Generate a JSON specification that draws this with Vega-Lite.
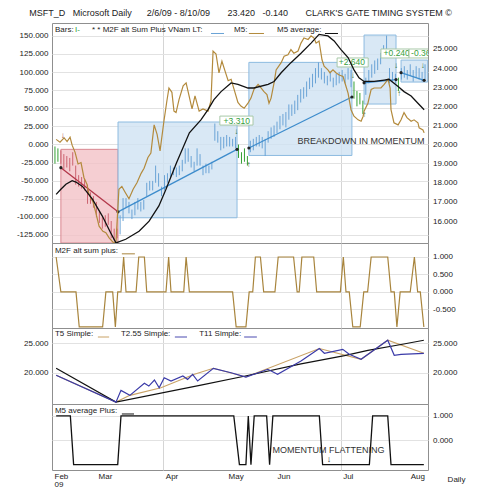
{
"$schema": "https://vega.github.io/schema/vega-lite/v6.json",
"background": "white",
"padding": {"left": 15, "top": 8, "right": 5, "bottom": 2},
"title": {"text": "MSFT_D\u00a0\u00a0\u00a0Microsoft Daily\u00a0\u00a0\u00a0\u00a0\u00a0\u00a02/6/09 - 8/10/09\u00a0\u00a0\u00a0\u00a0\u00a0\u00a0\u00a023.420\u00a0\u00a0\u00a0-0.140\u00a0\u00a0\u00a0\u00a0\u00a0\u00a0\u00a0CLARK'S GATE TIMING SYSTEM \u00a9", "fontSize": 9, "fontWeight": "normal", "color": "#222", "anchor": "middle", "offset": 5},
"spacing": 0,
"bounds": "flush",
"resolve": {"scale": {"y": "independent"}},
"config": {
  "font": "Liberation Sans",
  "view": {"stroke": "#8f8f8f", "strokeWidth": 1},
  "axis": {"labelFont": "Liberation Sans", "labelFontSize": 8, "labelColor": "#222", "domain": false, "ticks": false, "titleFont": "Liberation Sans"}
},
"vconcat": [
{
  "width": 376, "height": 220,
  "encoding": {"x": {"field": "t", "type": "quantitative", "scale": {"domain": [0, 127], "nice": false, "zero": false}, "axis": {"values": [37.6, 97.5], "labels": false, "ticks": false, "domain": false, "grid": true, "gridColor": "#d5d5d5", "title": null}}},
  "resolve": {"scale": {"y": "independent"}},
  "layer": [
    {"encoding": {"y": {"field": "v", "type": "quantitative", "scale": {"domain": [14.85, 26.36], "nice": false, "zero": false}, "axis": {"orient": "right", "values": [16, 17, 18, 19, 20, 21, 22, 23, 24, 25], "labelExpr": "format(datum.value, '.3f')", "labelPadding": 4.5, "grid": false, "title": null}}},
    "layer": [
      {"data": {"values": [
        {"kind": "down", "t": 3.0, "t2": 22.3, "v": 14.85, "v2": 19.75},
        {"kind": "up", "t": 22.3, "t2": 62.5, "v": 16.17, "v2": 21.18},
        {"kind": "up", "t": 66.5, "t2": 101.3, "v": 19.43, "v2": 24.30},
        {"kind": "up", "t": 105.4, "t2": 116.2, "v": 22.12, "v2": 25.73},
        {"kind": "up", "t": 117.9, "t2": 126.9, "v": 23.27, "v2": 24.42}
      ]},
      "mark": {"type": "rect", "strokeWidth": 1, "fillOpacity": 0.8},
      "encoding": {
        "x2": {"field": "t2"},
        "y2": {"field": "v2"},
        "fill": {"field": "kind", "type": "nominal", "scale": {"domain": ["down", "up"], "range": ["#f2c2c7", "#cfe2f3"]}, "legend": null},
        "stroke": {"field": "kind", "type": "nominal", "scale": {"domain": ["down", "up"], "range": ["#d98791", "#8dbbe0"]}, "legend": null}
      }},
      {"data": {"values": [
        {"t":1,"v":19.0,"v2":19.9,"g":"g"},{"t":2,"v":19.1,"v2":19.8,"g":"g"},
        {"t":3,"v":19.0,"v2":19.7,"g":"r"},{"t":4,"v":18.7,"v2":19.5,"g":"r"},{"t":5,"v":18.8,"v2":19.4,"g":"r"},{"t":6,"v":18.6,"v2":19.3,"g":"r"},{"t":7,"v":18.9,"v2":19.6,"g":"r"},{"t":8,"v":17.9,"v2":18.9,"g":"r"},{"t":9,"v":17.8,"v2":18.4,"g":"r"},{"t":10,"v":17.7,"v2":18.3,"g":"r"},{"t":11,"v":17.6,"v2":18.2,"g":"r"},{"t":12,"v":16.9,"v2":17.9,"g":"r"},{"t":13,"v":16.9,"v2":17.5,"g":"r"},{"t":14,"v":16.7,"v2":17.3,"g":"r"},{"t":15,"v":16.2,"v2":17.0,"g":"r"},{"t":16,"v":15.9,"v2":16.5,"g":"r"},{"t":17,"v":15.6,"v2":16.2,"g":"r"},{"t":18,"v":15.7,"v2":16.3,"g":"r"},{"t":19,"v":15.8,"v2":16.4,"g":"r"},{"t":20,"v":15.1,"v2":16.0,"g":"r"},{"t":21,"v":15.0,"v2":15.6,"g":"r"},{"t":22,"v":15.1,"v2":15.6,"g":"r"},
        {"t":23,"v":15.3,"v2":16.3,"g":"b"},{"t":24,"v":16.0,"v2":17.2,"g":"b"},{"t":25,"v":16.7,"v2":17.2,"g":"b"},{"t":26,"v":16.4,"v2":17.0,"g":"b"},{"t":27,"v":16.1,"v2":16.6,"g":"b"},{"t":28,"v":16.3,"v2":17.0,"g":"b"},{"t":29,"v":16.6,"v2":17.2,"g":"b"},{"t":30,"v":16.5,"v2":17.0,"g":"b"},{"t":31,"v":16.6,"v2":17.1,"g":"b"},{"t":32,"v":17.3,"v2":18.0,"g":"b"},{"t":33,"v":17.6,"v2":18.1,"g":"b"},{"t":34,"v":17.6,"v2":18.1,"g":"b"},{"t":35,"v":18.0,"v2":18.9,"g":"b"},{"t":36,"v":17.8,"v2":18.5,"g":"b"},{"t":37,"v":17.3,"v2":17.8,"g":"b"},{"t":38,"v":17.6,"v2":18.4,"g":"b"},{"t":39,"v":18.0,"v2":18.5,"g":"b"},{"t":40,"v":18.3,"v2":18.9,"g":"b"},{"t":41,"v":18.4,"v2":18.8,"g":"b"},{"t":42,"v":18.3,"v2":18.8,"g":"b"},{"t":43,"v":18.4,"v2":18.9,"g":"b"},{"t":44,"v":18.6,"v2":19.2,"g":"b"},{"t":45,"v":19.0,"v2":19.8,"g":"b"},{"t":46,"v":19.1,"v2":19.8,"g":"b"},{"t":47,"v":18.8,"v2":19.4,"g":"b"},{"t":48,"v":18.6,"v2":19.1,"g":"b"},{"t":49,"v":18.9,"v2":19.8,"g":"b"},{"t":50,"v":18.9,"v2":19.5,"g":"b"},{"t":51,"v":18.4,"v2":18.9,"g":"b"},{"t":52,"v":18.5,"v2":19.0,"g":"b"},{"t":53,"v":18.5,"v2":18.9,"g":"b"},{"t":54,"v":18.7,"v2":19.1,"g":"b"},{"t":55,"v":20.2,"v2":21.1,"g":"b"},{"t":56,"v":20.1,"v2":20.7,"g":"b"},{"t":57,"v":19.7,"v2":20.4,"g":"b"},{"t":58,"v":19.8,"v2":20.4,"g":"b"},{"t":59,"v":19.9,"v2":20.5,"g":"b"},{"t":60,"v":19.9,"v2":20.4,"g":"b"},{"t":61,"v":19.9,"v2":20.3,"g":"b"},{"t":62,"v":19.8,"v2":20.4,"g":"b"},
        {"t":63,"v":19.3,"v2":20.0,"g":"g"},{"t":64,"v":19.0,"v2":19.6,"g":"g"},{"t":65,"v":19.1,"v2":19.8,"g":"g"},{"t":66,"v":18.9,"v2":19.4,"g":"g"},
        {"t":67,"v":19.6,"v2":20.2,"g":"b"},{"t":68,"v":19.7,"v2":20.3,"g":"b"},{"t":69,"v":19.9,"v2":20.4,"g":"b"},{"t":70,"v":19.9,"v2":20.5,"g":"b"},{"t":71,"v":19.8,"v2":20.4,"g":"b"},{"t":72,"v":19.4,"v2":20.3,"g":"b"},{"t":73,"v":20.1,"v2":20.7,"g":"b"},{"t":74,"v":20.3,"v2":20.9,"g":"b"},{"t":75,"v":20.4,"v2":21.0,"g":"b"},{"t":76,"v":20.6,"v2":21.2,"g":"b"},{"t":77,"v":20.8,"v2":21.5,"g":"b"},{"t":78,"v":21.0,"v2":21.6,"g":"b"},{"t":79,"v":20.9,"v2":21.7,"g":"b"},{"t":80,"v":21.3,"v2":22.1,"g":"b"},{"t":81,"v":21.5,"v2":22.1,"g":"b"},{"t":82,"v":21.6,"v2":22.3,"g":"b"},{"t":83,"v":21.8,"v2":22.6,"g":"b"},{"t":84,"v":22.2,"v2":22.9,"g":"b"},{"t":85,"v":22.4,"v2":23.0,"g":"b"},{"t":86,"v":22.5,"v2":23.3,"g":"b"},{"t":87,"v":22.9,"v2":23.5,"g":"b"},{"t":88,"v":23.0,"v2":23.7,"g":"b"},{"t":89,"v":23.2,"v2":24.0,"g":"b"},{"t":90,"v":23.5,"v2":24.3,"g":"b"},{"t":91,"v":23.4,"v2":24.0,"g":"b"},{"t":92,"v":23.2,"v2":23.8,"g":"b"},{"t":93,"v":23.1,"v2":23.6,"g":"b"},{"t":94,"v":23.3,"v2":23.8,"g":"b"},{"t":95,"v":23.0,"v2":23.5,"g":"b"},{"t":96,"v":23.1,"v2":23.7,"g":"b"},{"t":97,"v":23.2,"v2":23.8,"g":"b"},{"t":98,"v":23.3,"v2":23.9,"g":"b"},{"t":99,"v":23.2,"v2":23.7,"g":"b"},{"t":100,"v":23.4,"v2":24.0,"g":"b"},{"t":101,"v":23.0,"v2":23.9,"g":"b"},
        {"t":102,"v":22.4,"v2":23.3,"g":"g"},{"t":103,"v":22.0,"v2":22.8,"g":"g"},{"t":104,"v":22.1,"v2":22.7,"g":"g"},{"t":105,"v":21.6,"v2":22.3,"g":"g"},
        {"t":106,"v":22.6,"v2":23.5,"g":"b"},{"t":107,"v":23.2,"v2":23.9,"g":"b"},{"t":108,"v":23.5,"v2":24.2,"g":"b"},{"t":109,"v":23.7,"v2":24.4,"g":"b"},{"t":110,"v":23.9,"v2":24.5,"g":"b"},{"t":111,"v":24.2,"v2":24.8,"g":"b"},{"t":112,"v":24.6,"v2":25.2,"g":"b"},{"t":113,"v":25.0,"v2":25.7,"g":"b"},{"t":114,"v":23.2,"v2":24.0,"g":"b"},{"t":115,"v":23.3,"v2":23.8,"g":"b"},{"t":116,"v":23.2,"v2":23.7,"g":"b"},
        {"t":117,"v":22.8,"v2":23.5,"g":"g"},
        {"t":118,"v":23.4,"v2":24.0,"g":"b"},{"t":119,"v":23.5,"v2":24.1,"g":"b"},{"t":120,"v":23.4,"v2":23.9,"g":"b"},{"t":121,"v":23.6,"v2":24.2,"g":"b"},{"t":122,"v":23.3,"v2":23.9,"g":"b"},{"t":123,"v":23.5,"v2":24.1,"g":"b"},{"t":124,"v":23.4,"v2":24.0,"g":"b"},{"t":125,"v":23.3,"v2":23.8,"g":"b"},{"t":126,"v":23.4,"v2":24.2,"g":"b"}
      ]},
      "mark": {"type": "rule", "strokeWidth": 1},
      "encoding": {
        "y2": {"field": "v2"},
        "color": {"field": "g", "type": "nominal", "scale": {"domain": ["r", "b", "g"], "range": ["#cc6470", "#6aa3d6", "#34a034"]}, "legend": null}
      }},
      {"data": {"values": [{"t": 3.0, "v": 18.79}, {"t": 22.3, "v": 16.48}]},
      "mark": {"type": "line", "color": "#b3384a", "strokeWidth": 1.3}},
      {"data": {"values": [
        {"s": 1, "t": 22.3, "v": 16.48}, {"s": 1, "t": 62.5, "v": 19.75},
        {"s": 2, "t": 66.5, "v": 19.82}, {"s": 2, "t": 101.3, "v": 22.49},
        {"s": 3, "t": 105.4, "v": 23.23}, {"s": 3, "t": 116.2, "v": 23.40},
        {"s": 4, "t": 117.9, "v": 23.76}, {"s": 4, "t": 125.7, "v": 23.36}
      ]},
      "mark": {"type": "line", "color": "#3d8ccc", "strokeWidth": 1.3},
      "encoding": {"detail": {"field": "s", "type": "nominal"}}},
      {"data": {"values": [
        {"t": 3.0, "v": 18.79}, {"t": 22.3, "v": 16.48}, {"t": 62.5, "v": 19.75}, {"t": 66.5, "v": 19.82}, {"t": 101.3, "v": 22.49}, {"t": 105.4, "v": 23.23}, {"t": 116.2, "v": 23.40}, {"t": 117.9, "v": 23.76}, {"t": 125.7, "v": 23.36}
      ]},
      "mark": {"type": "point", "filled": true, "color": "#222", "size": 10, "opacity": 1}},
      {"data": {"values": [
        {"t": 62.2, "v": 20.65, "txt": "\u2193"}, {"t": 66.4, "v": 18.95, "txt": "\u2191"},
        {"t": 101.6, "v": 23.6, "txt": "\u2193"}, {"t": 105.5, "v": 21.55, "txt": "\u2191"},
        {"t": 116.2, "v": 24.1, "txt": "\u2193"}, {"t": 117.2, "v": 22.65, "txt": "\u2191"},
        {"t": 125.2, "v": 24.1, "txt": "\u2193"}
      ]},
      "mark": {"type": "text", "align": "center", "baseline": "middle", "fontSize": 8, "fontWeight": "bold", "color": "#2d6e2d"},
      "encoding": {"text": {"field": "txt"}}},
      {"data": {"values": [{"t": 3.6, "v": 20.44, "txt": "\u2193"}]},
      "mark": {"type": "text", "align": "center", "baseline": "middle", "fontSize": 8, "fontWeight": "bold", "color": "#9a2a3a"},
      "encoding": {"text": {"field": "txt"}}},
      {"data": {"values": [
        {"t": 56.7, "t2": 67.9, "v": 21.02, "v2": 21.49},
        {"t": 96.3, "t2": 106.8, "v": 24.06, "v2": 24.53},
        {"t": 111.1, "t2": 120.6, "v": 24.53, "v2": 25.0}
      ]},
      "mark": {"type": "rect", "fill": "white", "stroke": "#a8c8a8", "strokeWidth": 1, "clip": true},
      "encoding": {"x2": {"field": "t2"}, "y2": {"field": "v2"}}},
      {"data": {"values": [
        {"t": 62.4, "v": 21.25, "txt": "+3.310"},
        {"t": 101.3, "v": 24.3, "txt": "+2.640"}
      ]},
      "mark": {"type": "text", "align": "center", "baseline": "middle", "fontSize": 8.5, "color": "#36a03c"},
      "encoding": {"text": {"field": "txt"}}},
      {"data": {"values": [{"t": 112.0, "v": 24.77, "txt": "+0.240"}]},
      "mark": {"type": "text", "align": "left", "baseline": "middle", "fontSize": 8.5, "color": "#36a03c"},
      "encoding": {"text": {"field": "txt"}}},
      {"data": {"values": [{"t": 120.6, "t2": 128.2, "v": 24.53, "v2": 25.0}]},
      "mark": {"type": "rect", "fill": "white", "stroke": "#a8c8a8", "strokeWidth": 1, "clip": true},
      "encoding": {"x2": {"field": "t2"}, "y2": {"field": "v2"}}},
      {"data": {"values": [{"t": 121.3, "v": 24.77, "txt": "-0.360"}]},
      "mark": {"type": "text", "align": "left", "baseline": "middle", "fontSize": 8.5, "color": "#36a03c", "clip": true},
      "encoding": {"text": {"field": "txt"}}},
      {"data": {"values": [{"t": 104.4, "v": 20.18, "txt": "BREAKDOWN IN MOMENTUM"}]},
      "mark": {"type": "text", "align": "center", "baseline": "middle", "fontSize": 9, "color": "#333"},
      "encoding": {"text": {"field": "txt"}}}
    ]},
    {"encoding": {"y": {"field": "v", "type": "quantitative", "scale": {"domain": [-136.2, 167.8], "nice": false, "zero": false}, "axis": {"orient": "left", "values": [-125, -100, -75, -50, -25, 0, 25, 50, 75, 100, 125, 150], "labelExpr": "replace(format(datum.value, '.3f'), '\u2212', '-')", "labelPadding": 4, "grid": true, "gridColor": "#e2e2e2", "title": null}}},
    "layer": [
      {"data": {"values": [
        {"t":1.4,"v":7},{"t":2.7,"v":3},{"t":4.1,"v":9},{"t":5.1,"v":4},{"t":6.1,"v":10},{"t":6.8,"v":-1},{"t":7.8,"v":-11},{"t":8.8,"v":-27},{"t":9.8,"v":-25},{"t":10.8,"v":-46},{"t":11.8,"v":-55},{"t":12.5,"v":-69},{"t":13.9,"v":-80},{"t":14.9,"v":-96},{"t":15.9,"v":-113},{"t":17.2,"v":-120},{"t":18.2,"v":-122},{"t":19.3,"v":-129},{"t":20.6,"v":-135},{"t":21.6,"v":-136},{"t":22.6,"v":-62},{"t":23.6,"v":-58},{"t":24.7,"v":-66},{"t":26.0,"v":-75},{"t":27.4,"v":-62},{"t":28.7,"v":-53},{"t":30.1,"v":-40},{"t":31.1,"v":-33},{"t":32.4,"v":-18},{"t":33.4,"v":-12},{"t":34.5,"v":27},{"t":35.5,"v":14},{"t":36.5,"v":-9},{"t":37.8,"v":32},{"t":38.8,"v":60},{"t":39.5,"v":78},{"t":40.5,"v":72},{"t":41.2,"v":46},{"t":41.9,"v":44},{"t":42.9,"v":62},{"t":44.3,"v":81},{"t":45.3,"v":85},{"t":46.3,"v":67},{"t":47.3,"v":49},{"t":48.3,"v":67},{"t":49.7,"v":46},{"t":51.0,"v":49},{"t":52.7,"v":46},{"t":53.7,"v":60},{"t":54.4,"v":129},{"t":55.4,"v":125},{"t":56.4,"v":99},{"t":57.4,"v":115},{"t":58.4,"v":102},{"t":59.5,"v":88},{"t":60.5,"v":90},{"t":61.5,"v":76},{"t":62.8,"v":58},{"t":63.8,"v":53},{"t":64.9,"v":50},{"t":66.2,"v":57},{"t":67.2,"v":64},{"t":68.2,"v":76},{"t":69.6,"v":83},{"t":70.6,"v":78},{"t":71.6,"v":73},{"t":72.6,"v":69},{"t":73.3,"v":57},{"t":74.0,"v":64},{"t":75.0,"v":85},{"t":75.7,"v":103},{"t":77.4,"v":113},{"t":78.4,"v":122},{"t":79.7,"v":124},{"t":80.7,"v":131},{"t":81.7,"v":126},{"t":83.1,"v":129},{"t":84.1,"v":140},{"t":85.1,"v":147},{"t":86.5,"v":145},{"t":87.5,"v":150},{"t":88.5,"v":147},{"t":89.2,"v":140},{"t":90.2,"v":143},{"t":91.2,"v":117},{"t":91.9,"v":108},{"t":93.2,"v":103},{"t":93.9,"v":99},{"t":94.9,"v":103},{"t":95.9,"v":99},{"t":97.0,"v":96},{"t":98.3,"v":94},{"t":98.8,"v":87},{"t":100.0,"v":71},{"t":101.0,"v":48},{"t":102.0,"v":39},{"t":103.4,"v":34},{"t":104.4,"v":32},{"t":105.1,"v":39},{"t":105.4,"v":46},{"t":106.7,"v":57},{"t":107.8,"v":76},{"t":108.8,"v":78},{"t":111.1,"v":78},{"t":112.2,"v":83},{"t":113.5,"v":90},{"t":114.2,"v":78},{"t":114.5,"v":48},{"t":115.5,"v":30},{"t":116.9,"v":27},{"t":117.9,"v":34},{"t":118.9,"v":44},{"t":119.9,"v":37},{"t":121.3,"v":32},{"t":122.3,"v":34},{"t":123.6,"v":30},{"t":124.0,"v":23},{"t":125.3,"v":20},{"t":125.7,"v":16}
      ]},
      "mark": {"type": "line", "color": "#b38a3c", "strokeWidth": 1.2}},
      {"data": {"values": [
        {"t":1.4,"v":-69},{"t":3.0,"v":-62},{"t":4.7,"v":-55},{"t":6.8,"v":-50},{"t":8.1,"v":-52},{"t":10.3,"v":-58},{"t":13.7,"v":-76},{"t":17.0,"v":-99},{"t":19.8,"v":-122},{"t":21.6,"v":-136},{"t":24.9,"v":-131},{"t":29.4,"v":-120},{"t":32.8,"v":-106},{"t":36.1,"v":-85},{"t":38.5,"v":-62},{"t":42.1,"v":-25},{"t":46.4,"v":16},{"t":50.3,"v":34},{"t":52.7,"v":48},{"t":54.7,"v":62},{"t":57.1,"v":73},{"t":60.5,"v":85},{"t":62.8,"v":83},{"t":66.2,"v":78},{"t":68.2,"v":78},{"t":73.0,"v":83},{"t":75.0,"v":87},{"t":77.4,"v":99},{"t":80.7,"v":113},{"t":84.1,"v":126},{"t":87.5,"v":140},{"t":90.2,"v":152},{"t":93.2,"v":150},{"t":95.3,"v":143},{"t":97.6,"v":131},{"t":100.0,"v":120},{"t":102.0,"v":103},{"t":103.7,"v":92},{"t":105.4,"v":87},{"t":108.8,"v":87},{"t":112.2,"v":89},{"t":113.8,"v":90},{"t":116.9,"v":80},{"t":118.9,"v":73},{"t":121.3,"v":67},{"t":123.6,"v":57},{"t":125.7,"v":48}
      ]},
      "mark": {"type": "line", "color": "#111111", "strokeWidth": 1.3}},
      {"data": {"values": [
        {"t": 1.0, "v": 158.1, "txt": "Bars:"}, {"t": 13.5, "v": 158.1, "txt": "* * M2F alt Sum Plus VNam LT:"}, {"t": 61.5, "v": 158.1, "txt": "M5:"}, {"t": 76.0, "v": 158.1, "txt": "M5 average:"}
      ]},
      "mark": {"type": "text", "align": "left", "baseline": "middle", "fontSize": 8, "color": "#222"},
      "encoding": {"text": {"field": "txt"}}},
      {"data": {"values": [{"t": 7.8, "v": 158.1, "txt": "I-"}]},
      "mark": {"type": "text", "align": "left", "baseline": "middle", "fontSize": 8, "color": "#34a034"},
      "encoding": {"text": {"field": "txt"}}},
      {"data": {"values": [{"t": 53.7, "t2": 58.1, "v": 153.3}]},
      "mark": {"type": "rule", "color": "#6aa3d6", "strokeWidth": 1},
      "encoding": {"x2": {"field": "t2"}}},
      {"data": {"values": [{"t": 66.5, "t2": 71.6, "v": 153.3}]},
      "mark": {"type": "rule", "color": "#b38a3c", "strokeWidth": 1},
      "encoding": {"x2": {"field": "t2"}}},
      {"data": {"values": [{"t": 92.2, "t2": 96.6, "v": 153.3}]},
      "mark": {"type": "rule", "color": "#111111", "strokeWidth": 1},
      "encoding": {"x2": {"field": "t2"}}}
    ]}
  ]
},
{
  "width": 376, "height": 85,
  "encoding": {
    "x": {"field": "t", "type": "quantitative", "scale": {"domain": [0, 127], "nice": false, "zero": false}, "axis": {"values": [37.6, 97.5], "labels": false, "ticks": false, "domain": false, "grid": true, "gridColor": "#d5d5d5", "title": null}},
    "y": {"field": "v", "type": "quantitative", "scale": {"domain": [-1.03, 1.4], "nice": false, "zero": false}, "axis": {"orient": "right", "values": [1, 0.5, 0, -0.5], "labelExpr": "replace(format(datum.value, '.3f'), '\u2212', '-')", "labelPadding": 4.5, "grid": true, "gridColor": "#e2e2e2", "title": null}}
  },
  "layer": [
    {"data": {"values": [
      {"t":1.4,"v":1},{"t":3.0,"v":0},{"t":8.1,"v":0},{"t":9.2,"v":-1},{"t":17.1,"v":-1},{"t":18.2,"v":0},{"t":20.5,"v":0},{"t":21.4,"v":-1},{"t":22.2,"v":0},{"t":23.3,"v":0},{"t":24.2,"v":1},{"t":25.0,"v":0},{"t":28.4,"v":0},{"t":29.3,"v":1},{"t":31.2,"v":1},{"t":32.0,"v":0},{"t":38.5,"v":0},{"t":39.4,"v":1},{"t":40.2,"v":0},{"t":44.5,"v":0},{"t":45.3,"v":1},{"t":46.4,"v":0},{"t":61.0,"v":0},{"t":62.2,"v":-1},{"t":65.5,"v":-1},{"t":66.6,"v":0},{"t":67.8,"v":0},{"t":68.7,"v":1},{"t":70.4,"v":1},{"t":71.5,"v":0},{"t":75.3,"v":0},{"t":76.4,"v":1},{"t":81.6,"v":1},{"t":82.8,"v":0},{"t":83.5,"v":0},{"t":84.4,"v":1},{"t":88.4,"v":1},{"t":89.4,"v":0},{"t":97.4,"v":0},{"t":98.4,"v":1},{"t":99.3,"v":0},{"t":100.4,"v":0},{"t":101.6,"v":-1},{"t":104.1,"v":-1},{"t":105.3,"v":0},{"t":106.6,"v":0},{"t":107.8,"v":1},{"t":113.4,"v":1},{"t":114.5,"v":0},{"t":115.6,"v":0},{"t":116.5,"v":-1},{"t":117.6,"v":0},{"t":121.0,"v":0},{"t":122.4,"v":1},{"t":123.5,"v":0},{"t":124.4,"v":0},{"t":125.6,"v":-1}
    ]},
    "mark": {"type": "line", "color": "#a8843c", "strokeWidth": 1.2}},
    {"data": {"values": [{"t": 1.0, "v": 1.17, "txt": "M2F alt sum plus:"}]},
    "mark": {"type": "text", "align": "left", "baseline": "middle", "fontSize": 8, "color": "#222"},
    "encoding": {"text": {"field": "txt"}}},
    {"data": {"values": [{"t": 23.6, "t2": 28.0, "v": 1.09}]},
    "mark": {"type": "rule", "color": "#a8843c", "strokeWidth": 1},
    "encoding": {"x2": {"field": "t2"}}}
  ]
},
{
  "width": 376, "height": 76,
  "encoding": {"x": {"field": "t", "type": "quantitative", "scale": {"domain": [0, 127], "nice": false, "zero": false}, "axis": {"values": [37.6, 97.5], "labels": false, "ticks": false, "domain": false, "grid": true, "gridColor": "#d5d5d5", "title": null}}},
  "resolve": {"scale": {"y": "independent"}},
  "layer": [
    {"encoding": {"y": {"field": "v", "type": "quantitative", "scale": {"domain": [14.68, 27.6], "nice": false, "zero": false}, "axis": {"orient": "left", "values": [20, 25], "labelExpr": "format(datum.value, '.3f')", "labelPadding": 4, "grid": true, "gridColor": "#e2e2e2", "title": null}}},
    "layer": [
      {"data": {"values": [
        {"t":1.4,"v":19.56},{"t":21.6,"v":15.0},{"t":26.3,"v":16.15},{"t":36.8,"v":17.44},{"t":48.1,"v":19.73},{"t":54.5,"v":20.75},{"t":65.5,"v":19.27},{"t":90.3,"v":24.1},{"t":104.4,"v":22.28},{"t":113.4,"v":25.52},{"t":125.6,"v":23.3}
      ]},
      "mark": {"type": "line", "color": "#c9a266", "strokeWidth": 1.1}},
      {"data": {"values": [
        {"t":1.4,"v":20.75},{"t":21.6,"v":15.0},{"t":50.3,"v":17.9},{"t":64.9,"v":19.4},{"t":84.1,"v":21.5},{"t":98.8,"v":22.9},{"t":106.7,"v":23.8},{"t":117.9,"v":24.8},{"t":125.6,"v":25.52}
      ]},
      "mark": {"type": "line", "color": "#111111", "strokeWidth": 1.2}},
      {"data": {"values": [{"t": 1.0, "v": 26.58, "txt": "T5 Simple:"}, {"t": 23.3, "v": 26.58, "txt": "T2.55 Simple:"}, {"t": 49.7, "v": 26.58, "txt": "T11 Simple:"}]},
      "mark": {"type": "text", "align": "left", "baseline": "middle", "fontSize": 8, "color": "#222"},
      "encoding": {"text": {"field": "txt"}}},
      {"data": {"values": [{"t": 15.5, "t2": 19.3, "v": 26.07}]},
      "mark": {"type": "rule", "color": "#c9a266", "strokeWidth": 1},
      "encoding": {"x2": {"field": "t2"}}},
      {"data": {"values": [{"t": 41.5, "t2": 45.6, "v": 26.07}, {"t": 64.9, "t2": 69.2, "v": 26.07}]},
      "mark": {"type": "rule", "color": "#4a4ab0", "strokeWidth": 1},
      "encoding": {"x2": {"field": "t2"}}}
    ]},
    {"data": {"values": [
      {"t":1.4,"v":19.56},{"t":21.6,"v":15.0},{"t":23.3,"v":17.0},{"t":26.3,"v":16.15},{"t":31.2,"v":18.19},{"t":32.7,"v":17.73},{"t":34.6,"v":18.76},{"t":36.2,"v":17.44},{"t":37.9,"v":19.15},{"t":40.2,"v":18.59},{"t":44.2,"v":19.44},{"t":45.8,"v":18.87},{"t":47.5,"v":19.73},{"t":49.2,"v":18.59},{"t":54.5,"v":20.75},{"t":60.5,"v":20.0},{"t":65.5,"v":19.27},{"t":72.9,"v":20.58},{"t":76.2,"v":19.73},{"t":84.1,"v":22.0},{"t":90.3,"v":24.1},{"t":92.0,"v":23.3},{"t":98.2,"v":23.98},{"t":100.4,"v":23.13},{"t":104.4,"v":22.28},{"t":113.4,"v":25.52},{"t":115.6,"v":22.96},{"t":117.9,"v":23.13},{"t":125.6,"v":23.3}
    ]},
    "mark": {"type": "line", "color": "#3a3aa8", "strokeWidth": 1.2},
    "encoding": {
      "y": {"field": "v", "type": "quantitative", "scale": {"domain": [14.68, 27.6], "nice": false, "zero": false}, "axis": {"orient": "right", "values": [20, 25], "labelExpr": "format(datum.value, '.3f')", "labelPadding": 4.5, "grid": false, "title": null}}
    }}
  ]
},
{
  "width": 376, "height": 66,
  "encoding": {
    "x": {"field": "t", "type": "quantitative", "scale": {"domain": [0, 127], "nice": false, "zero": false}, "axis": {"values": [0, 14.9, 37.6, 58.8, 75.3, 97.5, 120.3], "labelExpr": "datum.value < 1 ? ['Feb', '09'] : datum.value < 20 ? 'Mar' : datum.value < 40 ? 'Apr' : datum.value < 65 ? 'May' : datum.value < 85 ? 'Jun' : datum.value < 110 ? 'Jul' : 'Aug'", "labelAlign": "left", "labelBaseline": "top", "labelOffset": 2, "labelPadding": 2, "labelFlush": false, "labelOverlap": false, "labelLineHeight": 8, "ticks": false, "domain": false, "grid": true, "gridColor": "#d5d5d5", "gridOpacity": {"condition": {"test": "datum.value == 37.6 || datum.value == 97.5", "value": 1}, "value": 0}, "title": "Daily", "titleX": 404, "titleY": 9, "titleAlign": "center", "titleBaseline": "middle", "titleFontSize": 8, "titleFontWeight": "normal", "titleColor": "#222"}},
    "y": {"field": "v", "type": "quantitative", "scale": {"domain": [-1.22, 1.49], "nice": false, "zero": false}, "axis": {"orient": "right", "values": [1, 0], "labelExpr": "format(datum.value, '.3f')", "labelPadding": 4.5, "grid": true, "gridColor": "#e2e2e2", "title": null}}
  },
  "layer": [
    {"data": {"values": [
      {"t":1.4,"v":1},{"t":6.2,"v":1},{"t":7.3,"v":-1},{"t":22.2,"v":-1},{"t":23.3,"v":1},{"t":61.4,"v":1},{"t":63.3,"v":-1},{"t":65.5,"v":-1},{"t":66.3,"v":1},{"t":67.2,"v":-1},{"t":68.3,"v":1},{"t":72.5,"v":1},{"t":73.5,"v":-1},{"t":74.6,"v":1},{"t":90.3,"v":1},{"t":91.4,"v":-1},{"t":107.2,"v":-1},{"t":108.3,"v":1},{"t":113.4,"v":1},{"t":114.5,"v":-1},{"t":125.6,"v":-1}
    ]},
    "mark": {"type": "line", "color": "#111111", "strokeWidth": 1.3}},
    {"data": {"values": [{"t": 1.0, "v": 1.2, "txt": "M5 average Plus:"}]},
    "mark": {"type": "text", "align": "left", "baseline": "middle", "fontSize": 8, "color": "#222"},
    "encoding": {"text": {"field": "txt"}}},
    {"data": {"values": [{"t": 93.4, "v": -0.38, "txt": "MOMENTUM FLATTENING"}, {"t": 93.6, "v": -0.75, "txt": "\u2193"}]},
    "mark": {"type": "text", "align": "center", "baseline": "middle", "fontSize": 9, "color": "#333"},
    "encoding": {"text": {"field": "txt"}}},
    {"data": {"values": [{"t": 23.6, "t2": 27.7, "v": 1.08}]},
    "mark": {"type": "rule", "color": "#111111", "strokeWidth": 1},
    "encoding": {"x2": {"field": "t2"}}}
  ]
}
]
}
